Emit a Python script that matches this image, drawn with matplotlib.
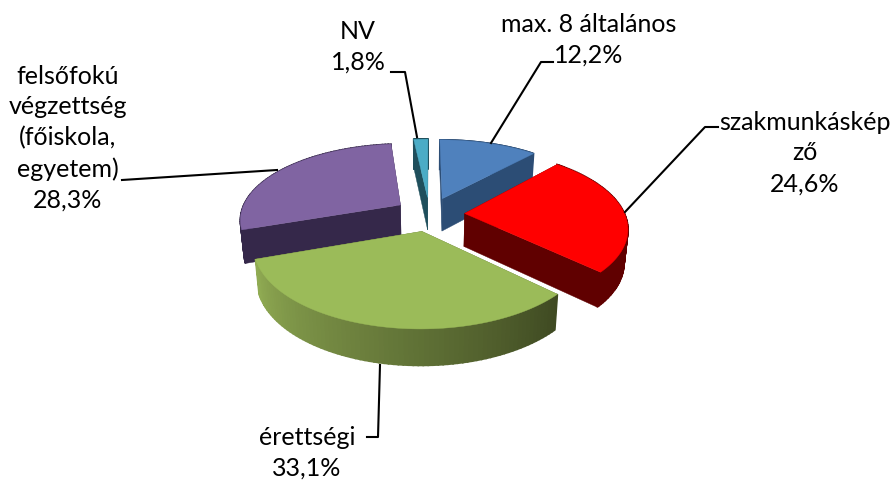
import numpy as np
import matplotlib
matplotlib.use('Agg')
import matplotlib.pyplot as plt
from matplotlib.colors import to_rgb

# data
names = ['max. 8 általános', 'szakmunkáskép\nző', 'érettségi',
         'felsőfokú\nvégzettség\n(főiskola,\negyetem)', 'NV']
values = [12.2, 24.6, 33.1, 28.3, 1.8]

top_colors = ['#4F81BD', '#FF0000', '#9BBB59', '#8064A2', '#4BACC6']
side_colors = ['#2C4D75', '#600000', '#5F7035', '#35284A', '#1F4F5C']

# pie geometry, in pixels
cx, cy = 429.5, 214
R, ry = 160, 78
k = 0.175
explode = 0.22
depth = 33

plt.rcParams['font.family'] = ['Lato', 'DejaVu Sans']

fig = plt.figure(figsize=(8.95, 4.83), dpi=100)
ax = fig.add_axes([0, 0, 1, 1])
ax.set_xlim(0, 895)
ax.set_ylim(483, 0)
ax.axis('off')


def project(u, v):
    p = 1 - k * v
    return cx + R * u * p, cy - ry * v * p


def lower(x, y, v):
    # point below the top surface, pulled a bit to the centre
    return cx + (x - cx) * 0.98, y + depth * (1 - 0.5 * k * v)


def slice_points(a0, a1):
    mid = (a0 + a1) / 2
    ou, ov = explode * np.sin(mid), explode * np.cos(mid)
    t = np.linspace(a0, a1, 80)
    u = ou + np.sin(t)
    v = ov + np.cos(t)
    return ou, ov, u, v


def draw_slice(i, a0, a1):
    ou, ov, u, v = slice_points(a0, a1)
    ax_, ay_ = project(ou, ov)
    bx_, by_ = lower(ax_, ay_, ov)
    x, y = project(u, v)
    xb, yb = lower(x, y, v)
    side = side_colors[i]

    # cut faces
    for j in (0, -1):
        ax.fill([ax_, x[j], xb[j], bx_], [ay_, y[j], yb[j], by_],
                color=side, lw=0.3, zorder=i_order[i])

    # outer rim, shaded along the arc on the green slice
    for s in range(len(x) - 1):
        if i == 2:
            f = s / (len(x) - 2)
            c = np.array(to_rgb('#3F4A22')) * (1 - f) + np.array(to_rgb('#90AB53')) * f
        else:
            c = side
        ax.fill([x[s], x[s + 1], xb[s + 1], xb[s]], [y[s], y[s + 1], yb[s + 1], yb[s]],
                color=c, lw=1.2, zorder=i_order[i])

    # top surface
    ax.fill(np.r_[ax_, x], np.r_[ay_, y], color=top_colors[i], lw=0.3, zorder=i_order[i] + 0.5)


i_order = [3, 4, 5, 1, 2]  # back to front

edges = np.cumsum([0] + values) / sum(values) * 2 * np.pi
for i in range(len(values)):
    draw_slice(i, edges[i], edges[i + 1])

# leader lines
leaders = [
    ([553, 541, 491], [62, 62, 143]),
    ([718, 705, 625], [127, 127, 212]),
    ([367, 378, 380], [437, 437, 365]),
    ([122, 277], [180, 170]),
    ([391, 405, 417], [72, 72, 137]),
]
for lx, ly in leaders:
    ax.plot(lx, ly, color='black', lw=1.5, zorder=10)

# labels
label_pos = [(589, 40), (805, 153), (307, 453), (68, 138), (358, 47)]
for name, val, (tx, ty) in zip(names, values, label_pos):
    label = name + '\n' + f'{val:.1f}%'.replace('.', ',')
    ax.text(tx, ty, label, ha='center', va='center', fontsize=18, linespacing=1.4,
            color='black', zorder=11)

fig.savefig('out.png', dpi=100)
